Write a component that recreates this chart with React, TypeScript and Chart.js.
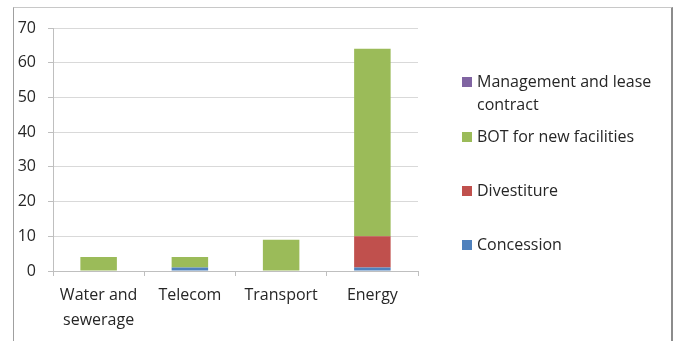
import React, { useEffect, useRef } from "react";
import { Chart, registerables } from "chart.js";

Chart.register(...registerables);

const categories: (string | string[])[] = [["Water and", "sewerage"], "Telecom", "Transport", "Energy"];
const seriesNames = ["Concession", "Divestiture", "BOT for new facilities", "Management and lease contract"];
const concession = [0, 1, 0, 1];
const divestiture = [0, 0, 0, 9];
const bot = [4, 3, 9, 54];
const management = [0, 0, 0, 0];
const seriesColors = ["#4F81BD", "#C0504D", "#9BBB59", "#8064A2"];
const yTicks = [0, 10, 20, 30, 40, 50, 60, 70];
const legendLines: string[][] = [["Management and lease", "contract"], ["BOT for new facilities"], ["Divestiture"], ["Concession"]];
const legendColorIdx = [3, 2, 1, 0];
const legendTops = [70, 125, 179, 233];

const FONT = "'Open Sans', 'DejaVu Sans', sans-serif";
const TEXT = "#262626";

export default function App() {
  const ref = useRef<HTMLCanvasElement | null>(null);
  useEffect(() => {
    if (!ref.current) return;
    const values = [concession, divestiture, bot, management];
    const chart = new Chart(ref.current, {
      type: "bar",
      data: {
        labels: categories,
        datasets: seriesNames.map((name, i) => ({
          label: name,
          data: values[i],
          backgroundColor: seriesColors[i],
          borderWidth: 0,
          barPercentage: 0.4,
          categoryPercentage: 1,
        })),
      },
      options: {
        responsive: false,
        animation: false,
        layout: { padding: { top: 28, right: 255, left: 0, bottom: 0 } },
        plugins: { legend: { display: false }, tooltip: { enabled: false } },
        scales: {
          x: {
            stacked: true,
            grid: {
              offset: true,
              drawOnChartArea: false,
              drawTicks: true,
              tickLength: 5,
              color: "#bfbfbf",
            },
            border: { color: "#bfbfbf" },
            ticks: {
              color: TEXT,
              font: { family: FONT, size: 16, lineHeight: 1.55 },
              padding: 7,
              maxRotation: 0,
            },
            afterFit: (s: any) => {
              s.height = 70;
            },
          },
          y: {
            stacked: true,
            min: 0,
            max: 70,
            afterBuildTicks: (s: any) => {
              s.ticks = yTicks.map((v) => ({ value: v }));
            },
            grid: { color: "#d9d9d9", tickLength: 5, tickColor: "#bfbfbf" },
            border: { color: "#bfbfbf" },
            ticks: {
              color: TEXT,
              font: { family: FONT, size: 16 },
              padding: 12,
            },
            afterFit: (s: any) => {
              s.width = 53;
            },
          },
        },
      },
    });
    return () => chart.destroy();
  }, []);

  return (
    <div style={{ position: "absolute", left: 0, top: 0, width: 673, height: 341, background: "#fff", overflow: "hidden" }}>
      <div
        style={{
          position: "absolute",
          left: 13,
          top: 7,
          width: 657,
          height: 345,
          borderLeft: "1px solid #a0a0a0",
          borderTop: "1px solid #c8c8c8",
          borderRight: "2px solid #8c8c8c",
        }}
      />
      <canvas ref={ref} width={673} height={341} style={{ position: "absolute", left: 0, top: 0 }} />
      {legendLines.map((lines, i) => (
        <div key={i} style={{ position: "absolute", left: 462, top: legendTops[i], fontFamily: FONT, fontSize: 16, color: TEXT, lineHeight: "23px" }}>
          <div style={{ position: "absolute", left: 0, top: 7, width: 10, height: 10, background: seriesColors[legendColorIdx[i]] }} />
          <div style={{ marginLeft: 15, whiteSpace: "nowrap" }}>
            {lines.map((l, j) => (
              <div key={j}>{l}</div>
            ))}
          </div>
        </div>
      ))}
    </div>
  );
}
